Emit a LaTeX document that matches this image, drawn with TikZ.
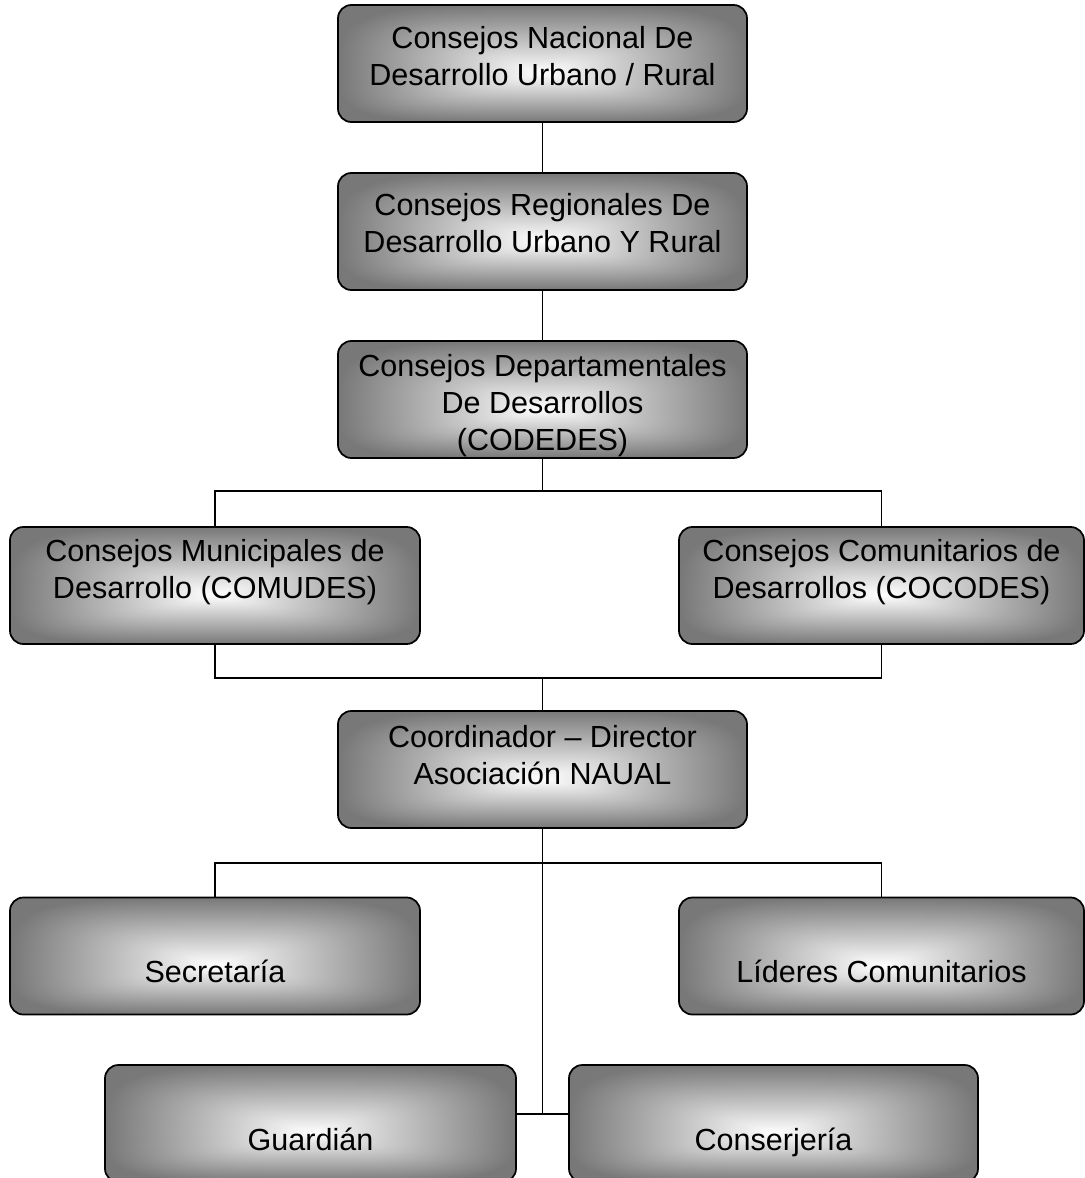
\documentclass[tikz,border=0pt]{standalone}
\usepackage{fontspec}
\setmainfont{Liberation Sans}
\pgfdeclarefunctionalshading{rectgrad}{\pgfpoint{-50bp}{-50bp}}{\pgfpoint{50bp}{50bp}}{}{
 4 add dup 0 gt {29 div} {-21 div} ifelse
 dup mul dup mul
 exch abs 25 div dup mul dup mul
 add sqrt sqrt
 1 2 copy gt {exch} if pop
 0.53 mul neg 1 add dup dup
}
\begin{document}
\begin{tikzpicture}[x=0.75pt,y=-0.75pt,
  box/.style={draw=black, line width=1.3pt, rounded corners=10pt, shade, shading=rectgrad,
    minimum height=87.75pt, inner sep=0pt, outer sep=0pt},
  lbl/.style={align=center, font=\fontsize{22.9}{27.75}\selectfont, inner sep=0pt},
  conn/.style={line width=1.2pt}]
\useasboundingbox (0,0) rectangle (1085,1178);
% boxes
\node[box, minimum width=306.75pt] (b1) at (542.5,63.5) {};
\node[box, minimum width=306.75pt] (b2) at (542.5,231.5) {};
\node[box, minimum width=306.75pt] (b3) at (542.5,399.5) {};
\node[box, minimum width=307.5pt] (b4) at (215,585.5) {};
\node[box, minimum width=303.75pt] (b5) at (881.5,585.5) {};
\node[box, minimum width=306.75pt] (b6) at (542.5,769.5) {};
\node[box, minimum width=307.5pt] (b7) at (215,956) {};
\node[box, minimum width=303.75pt] (b8) at (881.5,956) {};
\node[box, minimum width=308.25pt] (b9) at (310.5,1123.5) {};
\node[box, minimum width=306.75pt] (b10) at (773.5,1123.5) {};
% labels
\node[lbl] (t1) at (542.5,56) {Consejos Nacional De\\Desarrollo Urbano / Rural};
\node[lbl] (t2) at (542.5,223) {Consejos Regionales De\\Desarrollo Urbano Y Rural};
\node[lbl] (t3) at (542.5,406) {Consejos Departamentales\\De Desarrollos\\(CODEDES)};
\node[lbl] (t4) at (215,572) {Consejos Municipales de\\Desarrollo (COMUDES)};
\node[lbl] (t5) at (881.5,572) {Consejos Comunitarios de\\Desarrollos (COCODES)};
\node[lbl] (t6) at (542.5,755) {Coordinador -- Director\\Asociación NAUAL};
\node[lbl, anchor=base] (t7) at (215,982) {Secretaría};
\node[lbl, anchor=base] (t8) at (881.5,982) {Líderes Comunitarios};
\node[lbl, anchor=base] (t9) at (310.5,1150) {Guardián};
\node[lbl, anchor=base] (t10) at (773.5,1150) {Conserjería};
% junctions
\coordinate (j1) at (542.5,491);
\coordinate (j2) at (542.5,678);
\coordinate (j3) at (542.5,863);
\coordinate (j4) at (542.5,1114);
% connectors
\draw[conn] (b1.south) -- (b2.north);
\draw[conn] (b2.south) -- (b3.north);
\draw[conn] (b3.south) -- (j1);
\draw[conn] (b4.north) |- (j1) -| (b5.north);
\draw[conn] (b4.south) |- (j2) -| (b5.south);
\draw[conn] (j2) -- (b6.north);
\draw[conn] (b6.south) -- (j4);
\draw[conn] (b7.north) |- (j3) -| (b8.north);
\draw[conn] (b9.east |- j4) -- (b10.west |- j4);
\end{tikzpicture}
\end{document}
